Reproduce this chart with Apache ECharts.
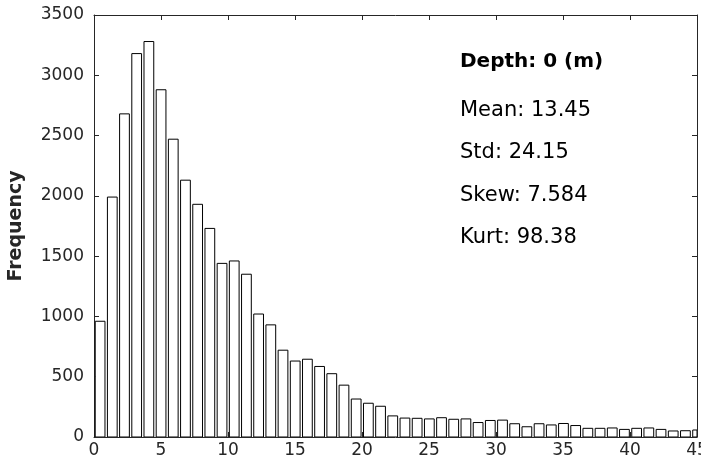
<!DOCTYPE html>
<html>
<head>
<meta charset="utf-8">
<script src="https://cdn.jsdelivr.net/npm/echarts@6/dist/echarts.min.js"></script>
<style>
  html, body { margin: 0; padding: 0; background: #fff; }
  #chart { width: 701px; height: 471px; }
</style>
</head>
<body>
<div id="chart"></div>
<script>
// Histogram of values at depth 0 m: bin layout and counts per bin
const binStart = 0;
const binWidth = 0.91;
const counts = [
  960, 1990, 2680, 3180, 3280, 2880, 2470, 2130, 1930, 1730,
  1440, 1460, 1350, 1020, 930, 720, 630, 645, 585, 525,
  430, 315, 280, 255, 175, 157, 155, 150, 160, 147,
  150, 120, 137, 140, 110, 85, 110, 100, 112, 95,
  72, 72, 75, 63, 72, 75, 63, 50, 52, 58
];

// Axis ticks
const xTicks = [0, 5, 10, 15, 20, 25, 30, 35, 40, 45];
const yTicks = [0, 500, 1000, 1500, 2000, 2500, 3000, 3500];

// Summary statistics shown in the upper right
const statsTitle = 'Depth: 0 (m)';
const statsLines = ['Mean: 13.45', 'Std: 24.15', 'Skew: 7.584', 'Kurt: 98.38'];

const barFraction = 0.8;
const binData = counts.map((v, i) => [binStart + (i + 0.5) * binWidth, v]);

const axisColor = '#262626';
const fontFamily = '"DejaVu Sans", sans-serif';

const chart = echarts.init(document.getElementById('chart'), null, { renderer: 'canvas' });

const xBase = {
  type: 'value',
  min: xTicks[0],
  max: xTicks[xTicks.length - 1],
  interval: xTicks[1] - xTicks[0],
  splitLine: { show: false },
  axisLine: { show: true, onZero: false, lineStyle: { color: axisColor, width: 1 } },
  axisTick: { show: true, inside: true, length: 5, lineStyle: { color: axisColor } }
};
const yBase = {
  type: 'value',
  min: yTicks[0],
  max: yTicks[yTicks.length - 1],
  interval: yTicks[1] - yTicks[0],
  splitLine: { show: false },
  axisLine: { show: true, onZero: false, lineStyle: { color: axisColor, width: 1 } },
  axisTick: { show: true, inside: true, length: 5, lineStyle: { color: axisColor } }
};

const statsGraphics = [{
  type: 'text',
  left: 460,
  top: 52,
  style: { text: statsTitle, font: 'bold 20px ' + fontFamily, fill: '#000' }
}].concat(statsLines.map((t, i) => ({
  type: 'text',
  left: 460,
  top: 100 + i * 42.5,
  style: { text: t, font: '21px ' + fontFamily, fill: '#000' }
})));

chart.setOption({
  animation: false,
  backgroundColor: '#fff',
  grid: { left: 94, right: 4, top: 15, bottom: 34, containLabel: false, outerBoundsMode: 'none' },
  xAxis: [
    Object.assign({}, xBase, {
      position: 'bottom',
      axisLabel: { show: true, margin: 5, color: axisColor, fontSize: 17, fontFamily: fontFamily }
    }),
    Object.assign({}, xBase, { position: 'top', axisLabel: { show: false } })
  ],
  yAxis: [
    Object.assign({}, yBase, {
      position: 'left',
      name: 'Frequency',
      nameLocation: 'middle',
      nameGap: 68,
      nameTextStyle: { color: axisColor, fontSize: 19, fontWeight: 'bold', fontFamily: fontFamily },
      axisLabel: {
        show: true, margin: 10, color: axisColor, fontSize: 17, fontFamily: fontFamily,
        formatter: v => String(v)
      }
    }),
    Object.assign({}, yBase, { position: 'right', axisLabel: { show: false } })
  ],
  graphic: statsGraphics,
  series: [{
    type: 'custom',
    xAxisIndex: 0,
    yAxisIndex: 0,
    data: binData,
    clip: true,
    renderItem: function (params, api) {
      const c = api.value(0);
      const v = api.value(1);
      const half = binWidth * barFraction / 2;
      const pTop = api.coord([c - half, v]);
      const pBot = api.coord([c + half, 0]);
      const shape = echarts.graphic.clipRectByRect({
        x: pTop[0],
        y: pTop[1],
        width: pBot[0] - pTop[0],
        height: pBot[1] - pTop[1]
      }, {
        x: params.coordSys.x,
        y: params.coordSys.y,
        width: params.coordSys.width,
        height: params.coordSys.height
      });
      if (!shape) return null;
      return {
        type: 'rect',
        shape: shape,
        style: { fill: '#fff', stroke: '#000', lineWidth: 1 }
      };
    }
  }]
});
</script>
</body>
</html>
